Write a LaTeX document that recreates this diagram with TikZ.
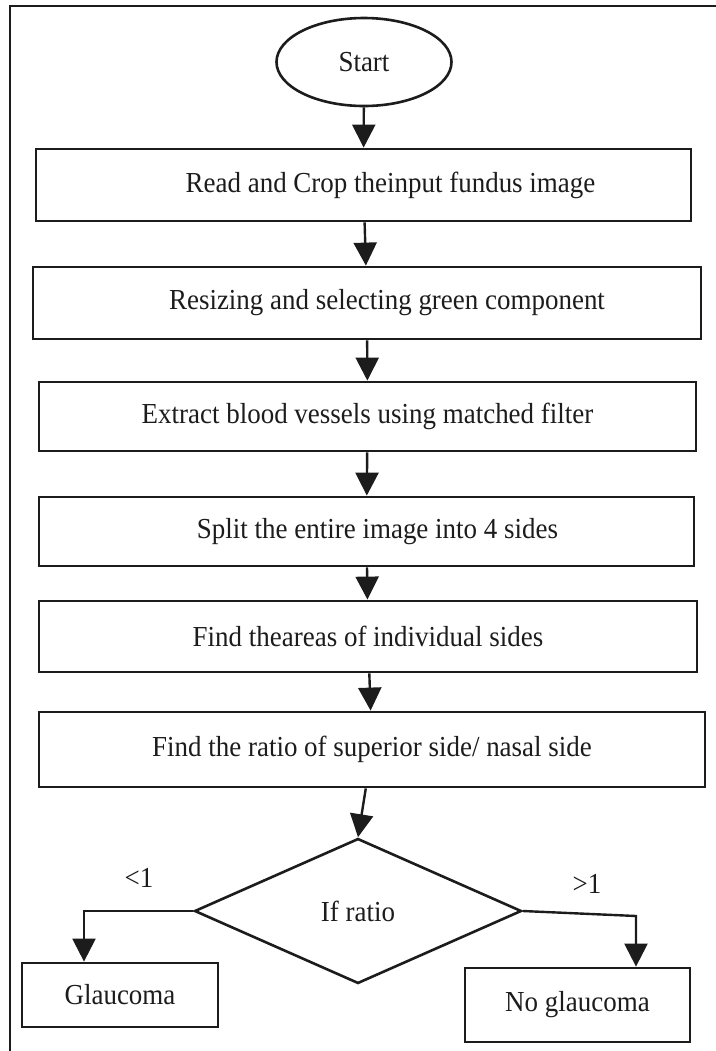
\documentclass[tikz,border=0pt]{standalone}
\usepackage{fontspec}
\setmainfont[FakeStretch=0.93]{Liberation Serif}
\usepackage{xcolor}
\usepackage{tikz}
\usetikzlibrary{arrows.meta,shapes.geometric}
\definecolor{FlowInk}{HTML}{1C1C1C}
\tikzset{
  >={Triangle[length=11.5pt,width=11.5pt]},
  flow/.style={->,line width=1.2pt,draw=FlowInk},
  frameline/.style={line width=1.3pt,draw=FlowInk},
  stepbox/.style={draw=FlowInk,line width=1.4pt,rectangle,align=center,
    inner sep=0pt,text=FlowInk,font=\fontsize{14.5}{17}\selectfont},
  startnode/.style={draw=FlowInk,line width=1.3pt,ellipse,inner sep=0pt,
    text=FlowInk,font=\fontsize{14.5}{17}\selectfont},
  decision/.style={draw=FlowInk,line width=1.3pt,diamond,inner sep=0pt,
    text=FlowInk,font=\fontsize{14.5}{17}\selectfont},
  branchlabel/.style={inner sep=0pt,text=FlowInk,font=\fontsize{14.5}{17}\selectfont}
}
\begin{document}
\begin{tikzpicture}[x=0.5pt,y=-0.5pt]
        \useasboundingbox (0,0) rectangle (716,1051);
        \draw[frameline] (10,1051) -- (10,6) -- (716,6);
        \node[startnode,minimum width=87.5pt,minimum height=44pt] (start) at (364,62) {Start};
        \node[stepbox,minimum width=327.5pt,minimum height=36pt] (crop) at (363.5,185) {\hspace*{27pt}Read and Crop theinput fundus image};
        \node[stepbox,minimum width=334pt,minimum height=36pt] (green) at (367,303) {\hspace*{20pt}Resizing and selecting green component};
        \node[stepbox,minimum width=328.5pt,minimum height=34.5pt] (vessels) at (367.5,416.5) {Extract blood vessels using matched filter};
        \node[stepbox,minimum width=327.5pt,minimum height=34.5pt] (split) at (366.5,531.5) {\hspace*{11pt}Split the entire image into 4 sides};
        \node[stepbox,minimum width=329pt,minimum height=35.5pt] (areas) at (368,636.5) {Find theareas of individual sides};
        \node[stepbox,minimum width=333pt,minimum height=37.5pt] (ratio) at (372,749.5) {Find the ratio of superior side/ nasal side};
        \node[decision,minimum width=163.5pt,minimum height=72.5pt] (check) at (358,911) {If ratio};
        \node[stepbox,minimum width=98pt,minimum height=32pt] (glaucoma) at (120,995) {Glaucoma};
        \node[stepbox,minimum width=112.5pt,minimum height=37pt] (noglaucoma) at (577.5,1005) {No glaucoma};
        \node[branchlabel] (lessone) at (139,878) {<1};
        \node[branchlabel] (moreone) at (587,884) {>1};
        \coordinate (leftbend) at (84,911);
        \coordinate (rightbend) at (636,916);
        \draw[flow] (start) -- (crop);
        \draw[flow] (crop) -- (green);
        \draw[flow] (green) -- (vessels);
        \draw[flow] (vessels) -- (split);
        \draw[flow] (split) -- (areas);
        \draw[flow] (areas) -- (ratio);
        \draw[flow] (ratio) -- (check.north);
        \draw[flow] (check.west) -- (leftbend) -- (leftbend |- glaucoma.north);
        \draw[flow] (check.east) -- (rightbend) -- (rightbend |- noglaucoma.north);
      \end{tikzpicture}
\end{document}
